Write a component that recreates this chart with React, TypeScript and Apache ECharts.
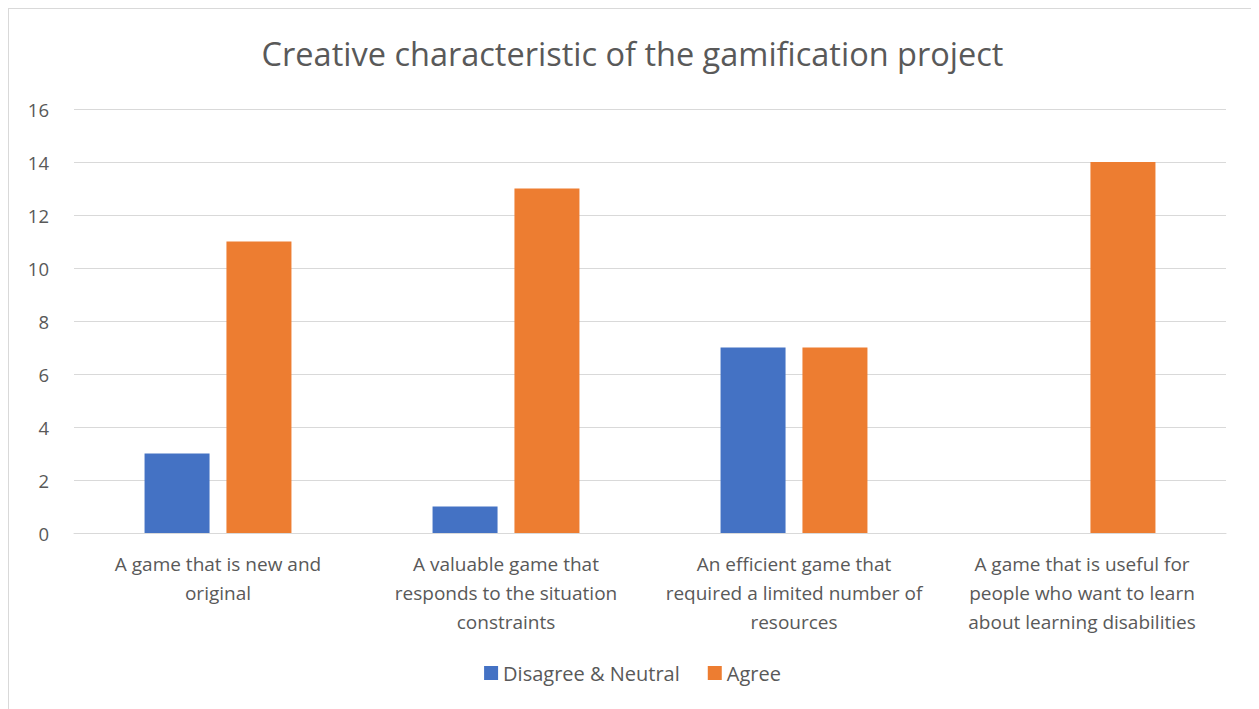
import React, { useEffect, useRef } from "react";
import * as echarts from "echarts";

const categories = [
  "A game that is new and\noriginal",
  "A valuable game that\nresponds to the situation\nconstraints",
  "An efficient game that\nrequired a limited number of\nresources",
  "A game that is useful for\npeople who want to learn\nabout learning disabilities",
];
const disagreeNeutral = [3, 1, 7, 0];
const agree = [11, 13, 7, 14];
const seriesNames = ["Disagree & Neutral", "Agree"];
const title = "Creative characteristic of the gamification project";

export default function App() {
  const ref = useRef<HTMLDivElement>(null);
  useEffect(() => {
    document.body.style.overflow = "hidden";
    const chart = echarts.init(ref.current!, null, { renderer: "svg" });
    const font = "'Open Sans', 'Liberation Sans', sans-serif";
    chart.setOption({
      animation: false,
      textStyle: { fontFamily: font },
      title: {
        text: title,
        left: "center",
        top: 23,
        textStyle: { fontSize: 32.5, fontWeight: "normal", color: "#595959", fontFamily: font },
      },
      legend: {
        bottom: 22,
        left: "center",
        itemWidth: 14,
        itemHeight: 14,
        itemGap: 28,
        icon: "rect",
        textStyle: { fontSize: 20, color: "#595959", fontFamily: font },
        data: seriesNames,
      },
      grid: { left: 65, right: 30, top: 100, bottom: 177, containLabel: false },
      xAxis: {
        type: "category",
        data: categories,
        axisLine: { lineStyle: { color: "#d9d9d9", width: 1 } },
        axisTick: { show: false },
        axisLabel: {
          interval: 0,
          fontSize: 19,
          lineHeight: 29,
          color: "#595959",
          margin: 16,
          fontFamily: font,
        },
      },
      yAxis: {
        type: "value",
        min: 0,
        max: 16,
        interval: 2,
        axisLine: { show: false },
        axisTick: { show: false },
        splitLine: { lineStyle: { color: "#d9d9d9", width: 1 } },
        axisLabel: { fontSize: 18.5, color: "#595959", margin: 25, fontFamily: font },
      },
      series: [
        {
          name: seriesNames[0],
          type: "bar",
          data: disagreeNeutral,
          barWidth: 65,
          barGap: "26%",
          itemStyle: { color: "#4472C4" },
        },
        {
          name: seriesNames[1],
          type: "bar",
          data: agree,
          barWidth: 65,
          itemStyle: { color: "#ED7D31" },
        },
      ],
    });
    return () => chart.dispose();
  }, []);
  return (
    <div
      ref={ref}
      style={{
        width: 1247,
        height: 701,
        border: "1px solid #d9d9d9",
        borderBottom: "none",
        background: "#fff",
      }}
    />
  );
}
